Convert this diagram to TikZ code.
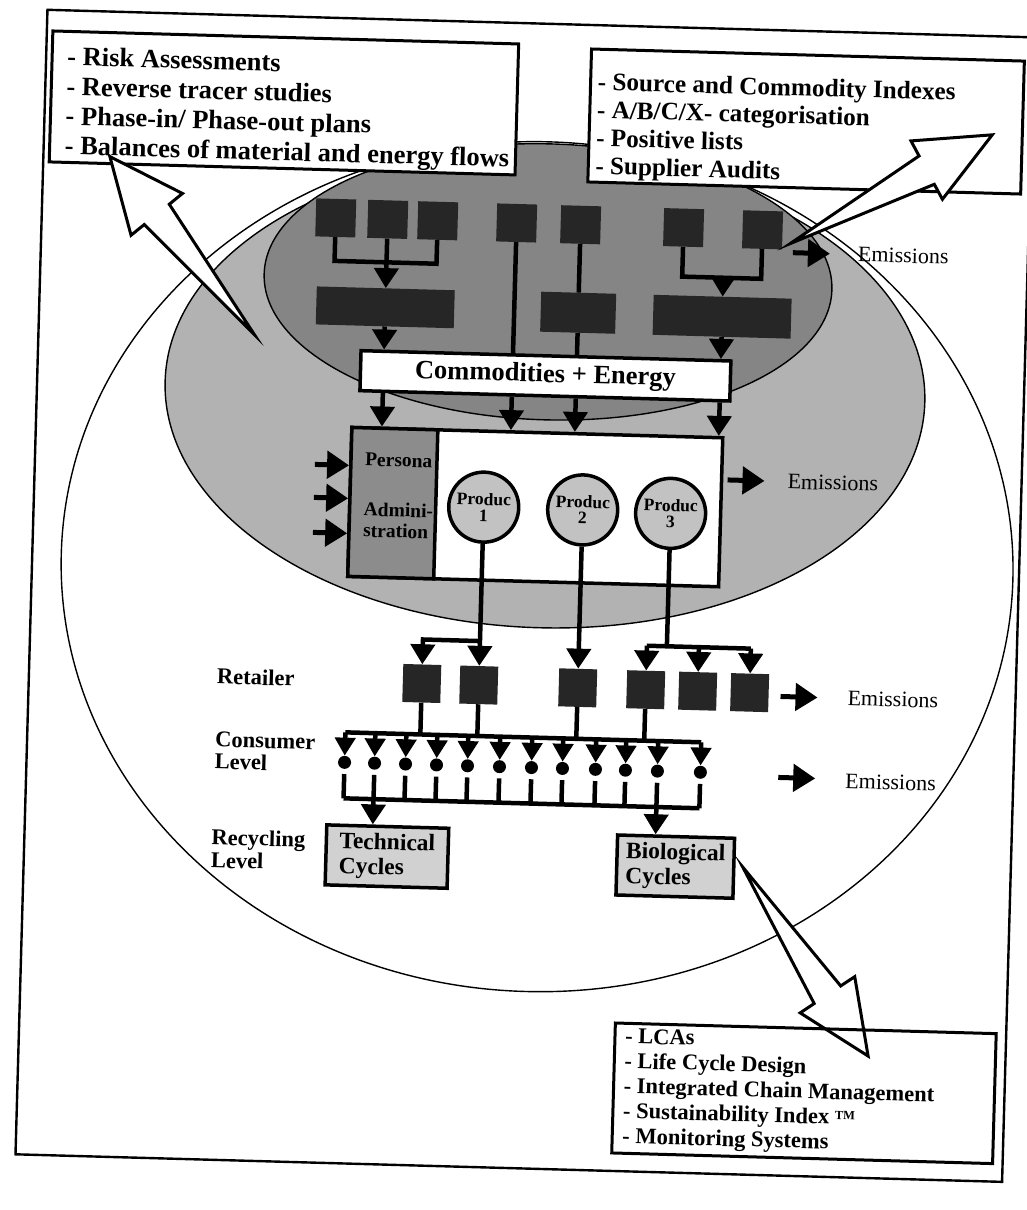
\documentclass[tikz,border=0pt]{standalone}
\usepackage{fontspec}
\setmainfont{Liberation Serif}
\usetikzlibrary{arrows.meta,calc}

\begin{document}
\begin{tikzpicture}[x=1pt,y=-1pt,
  line/.style={draw=black,line width=4.5pt},
  zoneline/.style={draw=black,line width=1.4pt},
  downtip/.style={-{Triangle[width=24pt,length=20pt]}},
  smalltip/.style={-{Triangle[width=20pt,length=18pt]}},
  outflow/.style={draw=black,line width=5pt,-{Triangle[width=27pt,length=22pt]}},
  hollow/.style={draw=black,line width=3pt,fill=white,line join=miter},
  listbox/.style={draw=black,line width=3pt,fill=white,inner sep=0pt},
  listline/.style={font=\bfseries\fontsize{26.5}{29}\selectfont,anchor=base west,inner sep=0pt},
  toolline/.style={font=\bfseries\fontsize{22.5}{24}\selectfont,anchor=base west,inner sep=0pt},
  unit/.style={fill=black!85,inner sep=0pt,minimum width=40pt,minimum height=38pt},
  whitebox/.style={draw=black,line width=3.5pt,fill=white,inner sep=0pt},
  panel/.style={font=\bfseries\fontsize{19.5}{19.5}\selectfont,anchor=base west,inner sep=0pt},
  product/.style={circle,draw=black,line width=3.5pt,fill=black!24,minimum size=70pt,inner sep=0pt,
    align=center,font=\bfseries\fontsize{17.5}{16}\selectfont},
  consumer/.style={circle,fill=black,minimum size=13pt,inner sep=0pt},
  level/.style={font=\bfseries\fontsize{22.5}{22.5}\selectfont,anchor=base west,inner sep=0pt},
  emis/.style={font=\fontsize{22}{22}\selectfont,anchor=base west,inner sep=0pt},
  cyclebox/.style={draw=black,line width=3.5pt,fill=black!18,inner sep=0pt,align=left,
    font=\bfseries\fontsize{23.5}{25}\selectfont},
]
\useasboundingbox (0,0) rectangle (1027,1210);
\begin{scope}[rotate around={-1.6:(513,605)},transform shape]
% page frame and the three zones
\draw[draw=black,line width=2.4pt] (31,23) rectangle (1018,1168);
\draw[zoneline,fill=white] (536,566) ellipse [x radius=476,y radius=425];
\draw[zoneline,fill=black!30] (539,391) ellipse [x radius=380,y radius=236];
\draw[zoneline,fill=black!48] (539,281) ellipse [x radius=284,y radius=138];

% list boxes
\node[listbox,minimum width=466pt,minimum height=131pt] (methods) at (270,109.5) {};
\node[listbox,minimum width=433pt,minimum height=133pt] (sources) at (792.5,113.5) {};

% suppliers
\node[unit] (sq1) at (325,223) {};
\node[unit] (sq2) at (377,223) {};
\node[unit] (sq3) at (427,223) {};
\node[unit] (sq4) at (506,223) {};
\node[unit] (sq5) at (570,223) {};
\node[unit] (sq6) at (673,223) {};
\node[unit] (sq7) at (752,223) {};
\node[unit,minimum width=138pt] (pre1) at (377,311) {};
\node[unit,minimum width=75pt,minimum height=40pt] (pre2) at (570,311) {};
\node[unit,minimum width=138pt,minimum height=40pt] (pre3) at (714,311) {};
\coordinate (br1) at (377,266);
\coordinate (br3) at (714,272);
\draw[line] (sq1.south) |- (br1) -| (sq3.south);
\draw[line] (sq2.south) -- (br1);
\draw[line,downtip] (br1) -- (pre1.north);
\draw[line] (sq6.south) |- (br3) -| (sq7.south);
\draw[line,downtip] (br3) -- (pre3.north);
\draw[line] (sq5.south) -- (pre2.north);

\node[whitebox,minimum width=370pt,minimum height=40pt,font=\bfseries\fontsize{26.5}{26.5}\selectfont]
  (comm) at (539,375) {Commodities + Energy};
\draw[line] (sq4.south) -- (sq4.south |- comm.north);
\draw[line] (pre2.south) -- (pre2.south |- comm.north);
\draw[line,downtip] (pre1.south) -- (pre1.south |- comm.north);
\draw[line,downtip] (pre3.south) -- (pre3.south |- comm.north);

% production site
\node[whitebox,minimum width=371pt,minimum height=149pt] (works) at (532.5,506.5) {};
\node[whitebox,fill=black!45,minimum width=86pt,minimum height=149pt] (staff) at (390,506.5) {};
\node[panel] (pers) at (361,470) {Persona};
\node[panel] (adm1) at (361,520) {Admini-};
\node[panel] (adm2) at (361,541) {stration};
\foreach \n in {pre1,sq4,pre2,pre3}
  \draw[line,downtip] (\n |- comm.south) -- (\n |- works.north);
\foreach \v [count=\i] in {470,503,538} {
  \coordinate (in\i) at (311,\v);
  \draw[outflow] (in\i) -- (in\i -| staff.west);
}
\node[product] (p1) at (481,508) {Produc\\1};
\node[product] (p2) at (580,508) {Produc\\2};
\node[product] (p3) at (668,509) {Produc\\3};

% retailers
\foreach \cx/\nm in {424/r1,481/r2,580/r3,648/r4,700/r5,752/r6}
  \node[unit,minimum width=38pt] (\nm) at (\cx,686) {};
\coordinate (b12) at (424,642);
\coordinate (b46) at (668,642);
\draw[line,downtip] (p1.south) -- (r2.north);
\draw[line,downtip] (p1 |- b12) -| (r1.north);
\draw[line,downtip] (p2.south) -- (r3.north);
\draw[line] (p3.south) -- (b46);
\draw[line] (r4.north |- b46) -- (r6.north |- b46);
\foreach \nm in {r4,r5,r6}
  \draw[line,downtip] (\nm.north |- b46) -- (\nm.north);

% consumers
\coordinate (cl) at (349,737);
\coordinate (cr) at (705,737);
\coordinate (bl) at (349,803);
\coordinate (bR) at (705,803);
\draw[line] (cl) -- (cr);
\draw[line] (bl) -- (bR);
\foreach \nm in {r1,r2,r3,r4}
  \draw[line] (\nm.south) -- (\nm.south |- cl);
\foreach \cx [count=\i] in {349,379,410,441,472,504,536,567,600,630,662,705} {
  \node[consumer] (con\i) at (\cx,767) {};
  \draw[line,smalltip] (con\i |- cl) -- (con\i.north);
  \draw[line] ([yshift=-5pt]con\i.south) -- (con\i |- bl);
}

% recycling
\node[cyclebox,minimum width=122pt,minimum height=60pt] (tech) at (394,860) {Technical\\Cycles};
\node[cyclebox,minimum width=117pt,minimum height=60pt] (bio) at (682.5,862) {Biological\\Cycles};
\draw[line,downtip] (con2 |- bl) -- (con2 |- tech.north);
\draw[line,downtip] (con11 |- bl) -- (con11 |- bio.north);

% level labels
\node[level] (retail) at (219,692) {Retailer};
\node[level] (cons1) at (219,755) {Consumer};
\node[level] (cons2) at (219,777) {Level};
\node[level] (recy1) at (218,853) {Recycling};
\node[level] (recy2) at (218,876) {Level};

% emissions
\coordinate (em1) at (783,245);
\coordinate (em2) at (724,474);
\coordinate (em3) at (783,689);
\coordinate (em4) at (783,770);
\foreach \i in {1,...,4} \draw[outflow] (em\i) -- ++(37,0);
\node[emis] (emt1) at (848,252) {Emissions};
\node[emis] (emt2) at (784,481) {Emissions};
\node[emis] (emt3) at (850,696) {Emissions};
\node[emis] (emt4) at (850,779) {Emissions};

% hollow arrows to the tool boxes
\coordinate (t1) at (247,342);   \coordinate (h1) at (97.5,168);
\coordinate (t2) at (780,236);   \coordinate (h2) at (979,121.6);
\coordinate (t3) at (750,860.6); \coordinate (h3) at (880.6,1046);
\foreach \i in {1,2,3}
  \draw[hollow] (h\i) -- ($(h\i)!0.355!24:(t\i)$) -- ($(h\i)!0.332!12.2:(t\i)$) -- (t\i)
    -- ($(h\i)!0.332!-12.2:(t\i)$) -- ($(h\i)!0.355!-24:(t\i)$) -- cycle;

\node[listbox,fill=none,minimum width=381pt,minimum height=130pt] (tools) at (817.5,1085) {};

% list texts
\foreach \txt [count=\i] in {- Risk Assessments,- Reverse tracer studies,
    - Phase-in/ Phase-out plans,- Balances of material and energy flows}
  \node[listline] (meth\i) at (52,{78+29.7*(\i-1)}) {\txt};
\foreach \txt [count=\i] in {- Source and Commodity Indexes,- A/B/C/X- categorisation,
    - Positive lists,- Supplier Audits}
  \node[listline,font=\bfseries\fontsize{25.2}{28}\selectfont] (src\i) at (583,{88+28*(\i-1)}) {\txt};
\foreach \txt [count=\i] in {- LCAs,- Life Cycle Design,- Integrated Chain Management,
    - Sustainability Index \raisebox{5pt}{\fontsize{12.5}{12.5}\selectfont TM},- Monitoring Systems}
  \node[toolline] (tool\i) at (637,{1040+25*(\i-1)}) {\txt};
\end{scope}
\end{tikzpicture}
\end{document}
